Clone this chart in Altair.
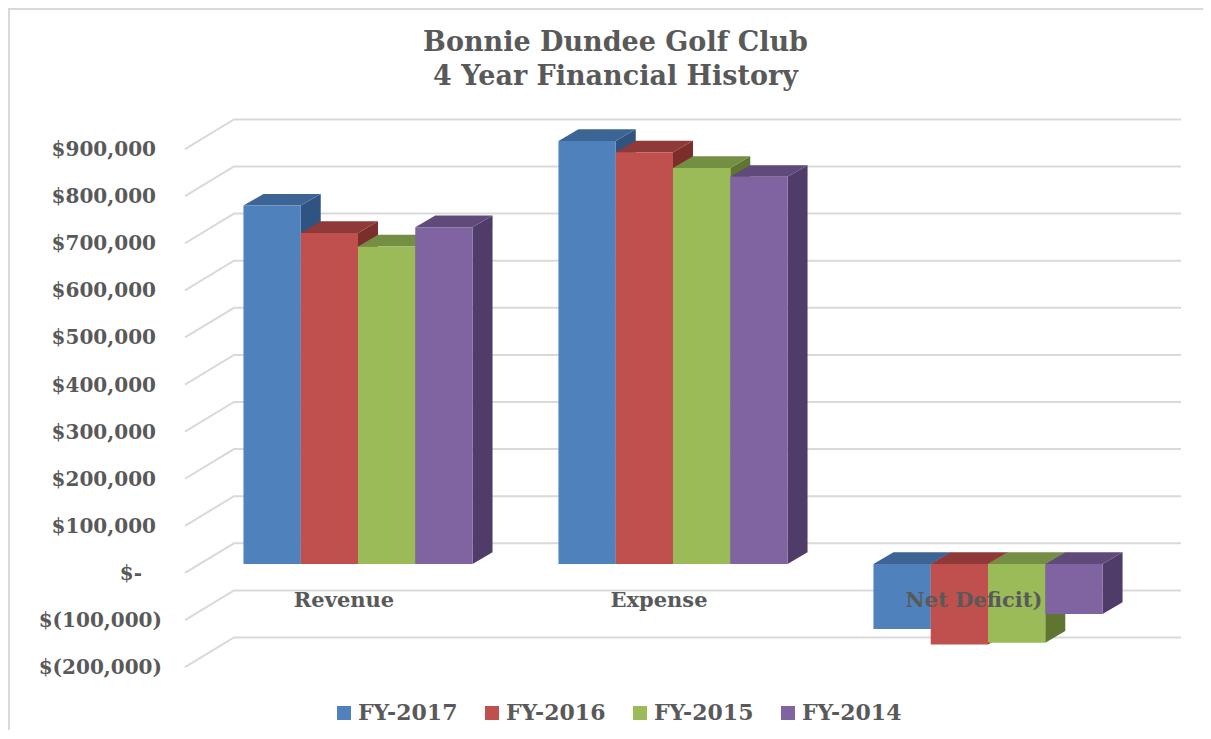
import altair as alt
import pandas as pd

title_lines = ["Bonnie Dundee Golf Club", "4 Year Financial History"]
categories = ["Revenue", "Expense", "Net Deficit)"]
series = ["FY-2017", "FY-2016", "FY-2015", "FY-2014"]
fy2017 = [761000, 898000, -138000]
fy2016 = [703000, 874000, -171000]
fy2015 = [674000, 841000, -167000]
fy2014 = [715000, 822000, -106000]
ticks = [-200000, -100000, 0, 100000, 200000, 300000, 400000, 500000,
         600000, 700000, 800000, 900000]
tick_labels = ["$(200,000)", "$(100,000)", "$-", "$100,000", "$200,000", "$300,000",
               "$400,000", "$500,000", "$600,000", "$700,000", "$800,000", "$900,000"]
front_colors = ["#4F81BD", "#C0504D", "#9BBB59", "#8064A2"]
top_colors = ["#3C6494", "#8F3A38", "#748E44", "#5F4A7A"]
side_colors = ["#2F5482", "#7B2E2C", "#5F7530", "#503C68"]

FONT = "DejaVu Serif"
TEXT = "#595959"
GRID = "#D9D9D9"
W, H = 1195, 722
sx = alt.Scale(domain=[-1.1111, 2.6825], nice=False, zero=False)
sy = alt.Scale(domain=[-352442, 1180467], nice=False, zero=False)

# 3-D projection constants, in data units
BAR_W = 0.1818
DX, DY = 0.0635, 24800
WALL_FRONT, WALL_BACK, WALL_RIGHT = -0.5492, -0.3937, 2.6127
GRID_FRONT_DY, GRID_BACK_DY = -19000, 44000
LABEL_EDGE_POS, LABEL_EDGE_NEG, LABEL_EDGE_ZERO = -0.6413, -0.6222, -0.6857

grid_rows = []
for t in ticks:
    grid_rows += [
        {"t": t, "x": WALL_FRONT, "y": t + GRID_FRONT_DY},
        {"t": t, "x": WALL_BACK, "y": t + GRID_BACK_DY},
        {"t": t, "x": WALL_RIGHT, "y": t + GRID_BACK_DY},
    ]

label_rows = [
    {"y": t, "label": lab,
     "x": LABEL_EDGE_ZERO if t == 0 else (LABEL_EDGE_NEG if t < 0 else LABEL_EDGE_POS)}
    for t, lab in zip(ticks, tick_labels)
]

all_values = [fy2017, fy2016, fy2015, fy2014]
face_rows = []
for c in range(len(categories)):
    for s, vals in enumerate(all_values):
        v = vals[c]
        hi, lo = max(v, 0), min(v, 0)
        l = c + (s - 2) * BAR_W
        r = l + BAR_W
        base = f"{c}-{s}"
        key = series[s]
        for x, y, y2 in [(r, hi, lo), (r + DX, hi + DY, lo + DY)]:
            face_rows.append({"face": base + "-side", "k": key + " side", "x": x, "y": y, "y2": y2})
        for x, y, y2 in [(l, hi, hi), (l + DX, hi + DY, hi), (r, hi + DY, hi), (r + DX, hi + DY, hi + DY)]:
            face_rows.append({"face": base + "-top", "k": key + " top", "x": x, "y": y, "y2": y2})
        for x in (l, r):
            face_rows.append({"face": base + "-front", "k": key + " front", "x": x, "y": hi, "y2": lo})

face_domain = [f"{s} {f}" for s in series for f in ("side", "top", "front")]
face_range = [col for i in range(4) for col in (side_colors[i], top_colors[i], front_colors[i])]

x_label = "+datum.value === 0 ? '%s' : +datum.value === 1 ? '%s' : '%s'" % tuple(categories)

x_axis = alt.Axis(
    values=[0, 1, 2], labelExpr=x_label, orient="bottom", offset=-130, title=None,
    domain=False, ticks=False, grid=False, labelPadding=0, labelBaseline="middle",
    labelOffset=-14.5, labelFont=FONT, labelFontWeight="bold", labelFontSize=21,
    labelColor=TEXT, zindex=1, labelFlush=False, labelOverlap=False)

grid = alt.Chart(pd.DataFrame(grid_rows)).mark_line(color=GRID, strokeWidth=2).encode(
    x=alt.X("x:Q", scale=sx, axis=x_axis),
    y=alt.Y("y:Q", scale=sy, axis=None),
    detail="t:N",
)

tick_text = alt.Chart(pd.DataFrame(label_rows)).mark_text(
    align="right", baseline="middle", dy=10, font=FONT, fontWeight="bold", fontSize=20, color=TEXT
).encode(
    x=alt.X("x:Q", scale=sx, axis=x_axis),
    y=alt.Y("y:Q", scale=sy, axis=None),
    text="label:N",
)

faces = alt.Chart(pd.DataFrame(face_rows)).mark_area(opacity=1).encode(
    x=alt.X("x:Q", scale=sx, axis=x_axis),
    y=alt.Y("y:Q", scale=sy, axis=None),
    y2="y2:Q",
    detail="face:N",
    color=alt.Color("k:N", scale=alt.Scale(domain=face_domain, range=face_range), legend=None),
)

legend_layer = alt.Chart(pd.DataFrame({"s": series, "x": [0] * 4, "y": [0] * 4})).mark_point(
    filled=True, shape="square", size=0, opacity=1).encode(
    x=alt.X("x:Q", scale=sx, axis=x_axis),
    y=alt.Y("y:Q", scale=sy, axis=None),
    fill=alt.Fill("s:N", scale=alt.Scale(domain=series, range=front_colors), legend=alt.Legend(
        title=None, orient="none", legendX=325, legendY=694, direction="horizontal", columns=4,
        symbolType="square", symbolSize=196, symbolStrokeWidth=0, symbolOpacity=1,
        labelFont=FONT, labelFontWeight="bold", labelFontSize=22, labelColor=TEXT,
        columnPadding=23, labelOffset=3, labelLimit=200)),
)

left_border = alt.Chart(pd.DataFrame({"a": [0]})).mark_rule(color=GRID, strokeWidth=2).encode(
    x=alt.value(1), y=alt.value(0), y2=alt.value(H))
top_border = alt.Chart(pd.DataFrame({"a": [0]})).mark_rule(color=GRID, strokeWidth=2).encode(
    y=alt.value(1), x=alt.value(0), x2=alt.value(W))

chart = alt.layer(left_border, top_border, grid, tick_text, faces, legend_layer).resolve_scale(
    color="independent", fill="independent"
).properties(
    width=W, height=H,
    padding=0,
    autosize=alt.AutoSizeParams(type="none"),
    background="white",
    title=alt.TitleParams(
        title_lines, anchor="middle", orient="top", font=FONT, fontWeight="bold", fontSize=27,
        color=TEXT, lineHeight=34, offset=-84, dx=10),
).configure_view(stroke=None)

chart.save("out.html", embed_options={"renderer": "svg", "actions": False})
